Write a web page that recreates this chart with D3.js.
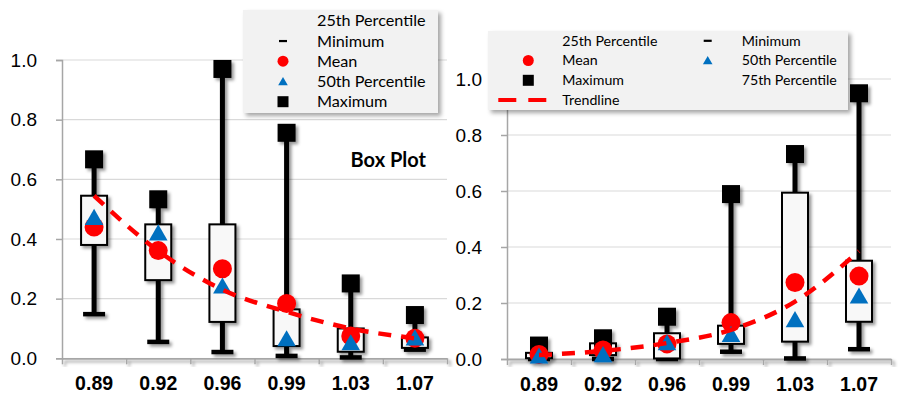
<!DOCTYPE html>
<html>
<head>
<meta charset="utf-8">
<script src="https://cdn.jsdelivr.net/npm/d3@7"></script>
<style>
  html, body { margin: 0; padding: 0; background: #fff; }
  svg { display: block; font-family: Lato, "Open Sans", sans-serif; }
</style>
</head>
<body>
<svg id="chart" width="903" height="396"></svg>
<script>
// Shared categories and tick labels
const categories = ["0.89", "0.92", "0.96", "0.99", "1.03", "1.07"];
const yTicks = [0, 0.2, 0.4, 0.6, 0.8, 1.0];

// Left panel
const leftMin    = [0.148, 0.055, 0.021, 0.008, 0.003, 0.029];
const leftQ1     = [0.380, 0.262, 0.122, 0.041, 0.022, 0.035];
const leftQ3     = [0.545, 0.449, 0.449, 0.164, 0.100, 0.070];
const leftMax    = [0.667, 0.533, 0.970, 0.756, 0.251, 0.145];
const leftMean   = [0.440, 0.361, 0.300, 0.184, 0.075, 0.067];
const leftMedian = [0.465, 0.413, 0.235, 0.058, 0.045, 0.061];
const leftTrend  = [0.545, 0.360, 0.230, 0.156, 0.100, 0.067];

// Right panel
const rightMin    = [0.000, 0.000, 0.000, 0.026, 0.002, 0.035];
const rightQ1     = [0.003, 0.014, 0.002, 0.054, 0.062, 0.133];
const rightQ3     = [0.022, 0.056, 0.092, 0.119, 0.594, 0.351];
const rightMax    = [0.048, 0.074, 0.151, 0.589, 0.732, 0.949];
const rightMean   = [0.016, 0.032, 0.054, 0.130, 0.273, 0.296];
const rightMedian = [0.003, 0.008, 0.050, 0.080, 0.133, 0.217];
const rightTrend  = [0.014, 0.029, 0.057, 0.104, 0.205, 0.385];

const RED = "#ff0000", BLUE = "#0070c0";

const svg = d3.select("#chart");
const defs = svg.append("defs");
defs.append("filter").attr("id", "shadow")
  .attr("x", "-30%").attr("y", "-30%").attr("width", "160%").attr("height", "160%")
  .append("feDropShadow")
  .attr("dx", 2.5).attr("dy", 2.5).attr("stdDeviation", 1.8)
  .attr("flood-color", "#000").attr("flood-opacity", 0.4);
defs.append("filter").attr("id", "legendShadow")
  .attr("x", "-10%").attr("y", "-10%").attr("width", "125%").attr("height", "130%")
  .append("feDropShadow")
  .attr("dx", 3).attr("dy", 3).attr("stdDeviation", 2.2)
  .attr("flood-color", "#000").attr("flood-opacity", 0.35);

function drawPanel(cfg) {
  const { left, right, top, bottom, min, q1, q3, max, mean, median, trend, title } = cfg;
  const x = d3.scaleBand().domain(categories).range([left, right]);
  const xEdge = d3.scaleLinear().domain([0, categories.length]).range([left, right]);
  const y = d3.scaleLinear().domain([0, 1]).range([bottom, top]);
  const g = svg.append("g");

  // gridlines
  g.append("g").selectAll("line").data(yTicks.filter(d => d > 0)).join("line")
    .attr("x1", left).attr("x2", right)
    .attr("y1", d => y(d)).attr("y2", d => y(d))
    .attr("stroke", "#d9d9d9").attr("stroke-width", 1.2);

  // right frame edge of the plot area
  g.append("line")
    .attr("x1", right).attr("x2", right).attr("y1", top).attr("y2", bottom)
    .attr("stroke", "#d9d9d9").attr("stroke-width", 1.2)
    .attr("filter", "url(#shadow)");

  // y axis
  const yAxis = g.append("g").attr("transform", `translate(${left},0)`)
    .call(d3.axisLeft(y).tickValues(yTicks).tickFormat(d3.format(".1f")).tickSize(6).tickPadding(19));
  yAxis.select(".domain").attr("stroke", "#a6a6a6").attr("stroke-width", 1.5);
  yAxis.selectAll(".tick line").attr("stroke", "#a6a6a6").attr("stroke-width", 1.5);
  yAxis.selectAll(".tick text").attr("font-size", 19).attr("fill", "#000");

  // x axis line with ticks at category boundaries
  const xAxis = g.append("g").attr("transform", `translate(0,${bottom})`)
    .attr("filter", "url(#shadow)")
    .call(d3.axisBottom(xEdge).tickValues(d3.range(categories.length + 1)).tickFormat("").tickSize(6).tickSizeOuter(0));
  xAxis.select(".domain").attr("stroke", "#a6a6a6").attr("stroke-width", 1.8);
  xAxis.selectAll(".tick line").attr("stroke", "#a6a6a6").attr("stroke-width", 1.5);

  // x labels
  const xLab = g.append("g").attr("transform", `translate(0,${bottom})`)
    .call(d3.axisBottom(x).tickSize(0).tickPadding(18));
  xLab.select(".domain").remove();
  xLab.selectAll(".tick text").attr("font-size", 19.5).attr("font-weight", "bold").attr("fill", "#000");

  const idx = d3.range(categories.length);
  const cx = i => x(categories[i]) + x.bandwidth() / 2;
  const marks = g.append("g").attr("filter", "url(#shadow)");

  // whiskers
  marks.append("g").selectAll("line").data(idx).join("line")
    .attr("x1", cx).attr("x2", cx)
    .attr("y1", i => y(min[i])).attr("y2", i => y(max[i]))
    .attr("stroke", "#000").attr("stroke-width", 5);
  // minimum caps
  marks.append("g").selectAll("line").data(idx).join("line")
    .attr("x1", i => cx(i) - 11).attr("x2", i => cx(i) + 11)
    .attr("y1", i => y(min[i])).attr("y2", i => y(min[i]))
    .attr("stroke", "#000").attr("stroke-width", 4.5);
  // boxes (25th-75th percentile)
  marks.append("g").selectAll("rect").data(idx).join("rect")
    .attr("x", i => cx(i) - 13).attr("width", 26)
    .attr("y", i => y(q3[i])).attr("height", i => Math.max(0, y(q1[i]) - y(q3[i])))
    .attr("fill", "#f8f8f8").attr("stroke", "#000").attr("stroke-width", 2);
  // maximum squares
  marks.append("g").selectAll("rect").data(idx).join("rect")
    .attr("x", i => cx(i) - 9).attr("y", i => y(max[i]) - 9)
    .attr("width", 18).attr("height", 18).attr("fill", "#000");
  // means
  marks.append("g").selectAll("circle").data(idx).join("circle")
    .attr("cx", cx).attr("cy", i => y(mean[i])).attr("r", 9.5).attr("fill", RED);
  // medians
  const tri = d3.symbol().type(d3.symbolTriangle).size(150);
  marks.append("g").selectAll("path").data(idx).join("path")
    .attr("transform", i => `translate(${cx(i)},${y(median[i])})`)
    .attr("d", tri).attr("fill", BLUE);

  // trendline
  const line = d3.line().x((d, i) => cx(i)).y(d => y(d)).curve(d3.curveMonotoneX);
  g.append("path").datum(trend).attr("d", line)
    .attr("fill", "none").attr("stroke", RED).attr("stroke-width", 4.5)
    .attr("stroke-dasharray", "13,10");

  if (title) {
    g.append("text").attr("x", title.x).attr("y", title.y)
      .attr("font-size", 20).attr("font-weight", "bold").attr("text-anchor", "end")
      .text(title.text);
  }
}

drawPanel({ left: 62, right: 447, top: 60, bottom: 358.3,
  min: leftMin, q1: leftQ1, q3: leftQ3, max: leftMax, mean: leftMean, median: leftMedian, trend: leftTrend,
  title: { x: 426, y: 166.5, text: "Box Plot" } });
drawPanel({ left: 507, right: 891, top: 79, bottom: 359,
  min: rightMin, q1: rightQ1, q3: rightQ3, max: rightMax, mean: rightMean, median: rightMedian, trend: rightTrend });

// Legend entries
const legendNames = ["25th Percentile", "Minimum", "Mean", "50th Percentile", "Maximum", "75th Percentile", "Trendline"];
const legendKinds = ["none", "dash", "circle", "triangle", "square", "none", "trend"];

function drawSymbol(sel, kind, sx, sy) {
  if (kind === "dash") sel.append("rect").attr("x", sx - 4).attr("y", sy - 1).attr("width", 8).attr("height", 2.2).attr("fill", "#000");
  if (kind === "circle") sel.append("circle").attr("cx", sx).attr("cy", sy).attr("r", 5.5).attr("fill", RED);
  if (kind === "triangle") sel.append("path").attr("transform", `translate(${sx},${sy + 1})`)
    .attr("d", d3.symbol().type(d3.symbolTriangle).size(40)).attr("fill", BLUE);
  if (kind === "square") sel.append("rect").attr("x", sx - 5.5).attr("y", sy - 5.5).attr("width", 11).attr("height", 11).attr("fill", "#000");
  if (kind === "trend") sel.append("line").attr("x1", sx - 30).attr("x2", sx + 19).attr("y1", sy).attr("y2", sy)
    .attr("stroke", RED).attr("stroke-width", 4).attr("stroke-dasharray", "18,12");
}

function drawLegend(box, items, pos, fontSize) {
  const lg = svg.append("g");
  lg.append("rect").attr("x", box.x).attr("y", box.y).attr("width", box.w).attr("height", box.h)
    .attr("fill", "#f2f2f2").attr("filter", "url(#legendShadow)");
  items.forEach((k, j) => {
    const p = pos(j);
    drawSymbol(lg, legendKinds[k], p.sx, p.y);
    lg.append("text").attr("x", p.tx).attr("y", p.y).attr("dy", "0.35em")
      .attr("font-size", fontSize).attr("fill", "#000").text(legendNames[k]);
  });
}

// Left legend: single column of five entries
drawLegend({ x: 243, y: 10, w: 195, h: 103 }, [0, 1, 2, 3, 4],
  j => ({ sx: 283, tx: 317, y: 20.7 + j * 20.25 }), 16.2);

// Right legend: two columns, filled row by row
drawLegend({ x: 488, y: 31, w: 360, h: 79 }, [0, 1, 2, 3, 4, 5, 6],
  j => {
    const col = j % 2, row = Math.floor(j / 2);
    return { sx: col ? 707.7 : 528.3, tx: col ? 741.7 : 562.3, y: 40.7 + row * 19.8 };
  }, 14.2);
</script>
</body>
</html>
